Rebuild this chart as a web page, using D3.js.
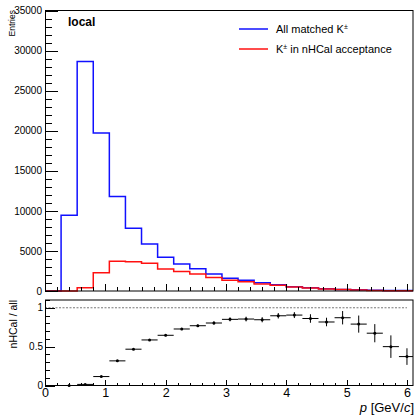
<!DOCTYPE html>
<html>
<head>
<meta charset="utf-8">
<script src="https://cdn.jsdelivr.net/npm/d3@7"></script>
<style>
body{margin:0;background:#fff}
text{font-family:"Liberation Sans",Arial,sans-serif}
</style>
</head>
<body>
<div id="chart"></div>
<script>
// momentum bins, width 4/15 GeV/c starting at 0
var binWidth = 4/15;
var binEdges = d3.range(0, 24).map(function(k){return k*binWidth;});
// all matched K+-
var allMatched = [0, 9450, 28650, 19700, 11800, 7830, 5875, 4210, 3375, 2790, 2125, 1580,
                  1335, 1040, 790, 540, 415, 290, 200, 150, 100, 70, 50];
// K+- in nHCal acceptance
var inAcceptance = [0, 0, 410, 2290, 3700, 3660, 3450, 2740, 2440, 2120, 1700, 1340,
                    1140, 880, 710, 490, 360, 237, 174, 120, 67, 35, 19];
// ratio nHCal / all, read from lower pad (null = no point)
var ratio = [null, 0, 0.014, 0.115, 0.317, 0.467, 0.586, 0.646, 0.727, 0.769, 0.804, 0.851,
             0.855, 0.846, 0.897, 0.906, 0.862, 0.817, 0.872, 0.79, 0.673, 0.5, 0.372];
var ratioErr = [0, 0, 0.002, 0.004, 0.006, 0.008, 0.01, 0.012, 0.014, 0.016, 0.022, 0.025,
                0.03, 0.033, 0.035, 0.038, 0.055, 0.055, 0.086, 0.11, 0.117, 0.145, 0.107];
var xTicks = [0,1,2,3,4,5,6];
var yTopTicks = [0,5000,10000,15000,20000,25000,30000,35000];
var yBotTicks = [0,0.5,1];

var W = 416, H = 415;
var svg = d3.select("#chart").append("svg").attr("width",W).attr("height",H);

var x = d3.scaleLinear().domain([0,6.1]).range([45,413]);
var yTop = d3.scaleLinear().domain([0,35000]).range([291,10.5]);
var yBot = d3.scaleLinear().domain([0,1.1]).range([385.5,300]);

var xMinor = d3.range(0,6.1001,0.2).filter(function(v){return Math.abs(v-Math.round(v))>0.01;});

function styleAxis(g,size){
  g.attr("font-family",null).attr("font-size",null);
  g.select(".domain").remove();
  g.selectAll("line").attr("stroke","#000").attr("shape-rendering","crispEdges");
  g.selectAll("text").attr("font-size",size).attr("fill","#000");
}

// ---- top pad ----
svg.append("defs").append("clipPath").attr("id","clipTop")
  .append("rect").attr("x",45).attr("y",0).attr("width",368).attr("height",292);

function histPath(vals){
  var pts=[[x(0),yTop(0)]];
  vals.forEach(function(v,i){
    pts.push([x(binEdges[i]),yTop(v)]);
    pts.push([x(binEdges[i+1]),yTop(v)]);
  });
  pts.push([x(binEdges[vals.length]),yTop(0)]);
  return d3.line()(pts);
}

var topPad = svg.append("g");
topPad.append("path").attr("d",histPath(allMatched)).attr("fill","none")
  .attr("stroke","#1010ff").attr("stroke-width",1.5).attr("clip-path","url(#clipTop)");
topPad.append("path").attr("d",histPath(inAcceptance)).attr("fill","none")
  .attr("stroke","#ff1010").attr("stroke-width",1.5).attr("clip-path","url(#clipTop)");

topPad.append("g").attr("transform","translate(45,0)")
  .call(d3.axisLeft(yTop).tickValues(yTopTicks).tickSize(-13).tickPadding(3).tickFormat(d3.format("d")))
  .call(styleAxis,10);
topPad.append("g").attr("transform","translate(45,0)")
  .call(d3.axisLeft(yTop).tickValues(d3.range(1000,35000,1000).filter(function(v){return v%5000;})).tickSize(-7).tickFormat(""))
  .call(styleAxis,10);
topPad.append("g").attr("transform","translate(0,291)")
  .call(d3.axisBottom(x).tickValues(xTicks).tickSize(-7).tickFormat(""))
  .call(styleAxis,10);
topPad.append("g").attr("transform","translate(0,291)")
  .call(d3.axisBottom(x).tickValues(xMinor).tickSize(-4).tickFormat(""))
  .call(styleAxis,10);

topPad.append("rect").attr("x",45.5).attr("y",10.5).attr("width",367.5).attr("height",280.5)
  .attr("fill","none").attr("stroke","#000").attr("stroke-width",1);

topPad.append("text").attr("transform","translate(15,10) rotate(-90)")
  .attr("text-anchor","end").attr("font-size",8.5).text("Entries");
topPad.append("text").attr("x",68).attr("y",26).attr("font-size",12).attr("font-weight","bold").text("local");

// legend
var legend = [{label:"All matched K", tail:" ", color:"#1010ff", y:29},
              {label:"K", tail:" in nHCal acceptance", color:"#ff1010", y:49}];
legend.forEach(function(d){
  topPad.append("line").attr("x1",239).attr("x2",268).attr("y1",d.y).attr("y2",d.y)
    .attr("stroke",d.color).attr("stroke-width",1.5);
  var t = topPad.append("text").attr("x",276).attr("y",d.y+4).attr("font-size",11);
  t.append("tspan").text(d.label);
  t.append("tspan").attr("font-size",7).attr("dy",-4.5).text("\u00b1");
  t.append("tspan").attr("dy",4.5).text(d.tail);
});

// ---- bottom pad ----
var botPad = svg.append("g");
botPad.append("line").attr("x1",x(0)).attr("x2",x(6)).attr("y1",yBot(1)).attr("y2",yBot(1))
  .attr("stroke","#777").attr("stroke-dasharray","2,1.5").attr("stroke-width",1);

botPad.append("g").attr("transform","translate(45,0)")
  .call(d3.axisLeft(yBot).tickValues(yBotTicks).tickSize(-10).tickPadding(2).tickFormat(function(d){return d===0?"0":d===1?"1":"0.5";}))
  .call(styleAxis,10);
botPad.append("g").attr("transform","translate(45,0)")
  .call(d3.axisLeft(yBot).tickValues([0.1,0.2,0.3,0.4,0.6,0.7,0.8,0.9,1.1]).tickSize(-5).tickFormat(""))
  .call(styleAxis,10);
botPad.append("g").attr("transform","translate(0,385.5)")
  .call(d3.axisBottom(x).tickValues(xTicks).tickSize(-6).tickPadding(3).tickFormat(d3.format("d")))
  .call(styleAxis,12.5);
botPad.append("g").attr("transform","translate(0,385.5)")
  .call(d3.axisBottom(x).tickValues(xMinor).tickSize(-3).tickFormat(""))
  .call(styleAxis,10);

botPad.append("rect").attr("x",45.5).attr("y",300).attr("width",367.5).attr("height",85.5)
  .attr("fill","none").attr("stroke","#000").attr("stroke-width",1);

// ratio points with error bars
var pts = ratio.map(function(r,i){return {r:r,e:ratioErr[i],lo:binEdges[i],hi:Math.min(binEdges[i+1],6.1),c:(binEdges[i]+binEdges[i+1])/2};})
  .filter(function(d){return d.r!==null;});
var pg = botPad.selectAll(".pt").data(pts).enter().append("g").attr("class","pt");
pg.append("line").attr("x1",function(d){return x(d.lo);}).attr("x2",function(d){return x(d.hi);})
  .attr("y1",function(d){return yBot(d.r);}).attr("y2",function(d){return yBot(d.r);})
  .attr("stroke","#000").attr("stroke-width",1);
pg.append("line").attr("x1",function(d){return x(d.c);}).attr("x2",function(d){return x(d.c);})
  .attr("y1",function(d){return yBot(d.r-d.e);}).attr("y2",function(d){return yBot(d.r+d.e);})
  .attr("stroke","#000").attr("stroke-width",1);
pg.append("circle").attr("cx",function(d){return x(d.c);}).attr("cy",function(d){return yBot(d.r);})
  .attr("r",1.5).attr("fill","#000");

botPad.append("text").attr("transform","translate(16.5,300) rotate(-90)")
  .attr("text-anchor","end").attr("font-size",10.5).text("nHCal / all");

var xt = botPad.append("text").attr("x",414).attr("y",411.5).attr("text-anchor","end").attr("font-size",13);
xt.append("tspan").attr("font-style","italic").text("p");
xt.append("tspan").text(" [GeV/");
xt.append("tspan").attr("font-style","italic").text("c");
xt.append("tspan").text("]");
</script>
</body>
</html>
